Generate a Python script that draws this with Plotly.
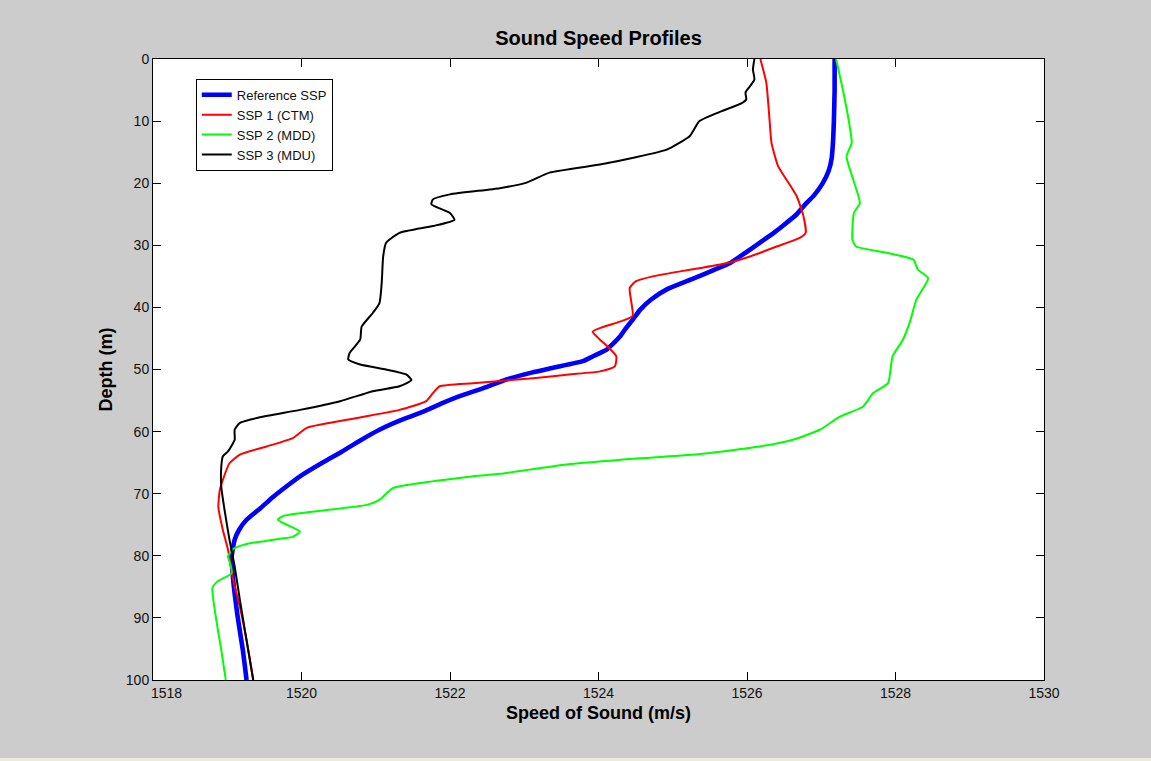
import plotly.graph_objects as go

# Sound speed profiles: speed (m/s) versus depth (m)
ref_depth = [0, 5, 10, 13, 16, 18, 20, 22, 23.2, 25, 26.4, 28, 29.6, 31.2, 32.8, 34, 35.5,
             37.1, 38.8, 40.4, 42, 43.5, 44.7, 46.8, 47.9, 48.6, 49.7, 50.5, 51.6, 53, 54.3,
             55.5, 56.8, 58.2, 59.7, 61.5, 63.4, 65.3, 67.2, 68.8, 70.5, 72.3, 74.2, 75.8,
             77.4, 80.1, 83.9, 89.8, 95.2, 100]
ref_speed = [1527.18, 1527.18, 1527.17, 1527.16, 1527.14, 1527.1, 1527.02, 1526.9, 1526.8,
             1526.67, 1526.53, 1526.36, 1526.17, 1525.98, 1525.78, 1525.55, 1525.25, 1524.92,
             1524.7, 1524.56, 1524.46, 1524.36, 1524.29, 1524.11, 1523.92, 1523.8, 1523.39,
             1523.1, 1522.76, 1522.45, 1522.13, 1521.88, 1521.64, 1521.33, 1521.05, 1520.78,
             1520.52, 1520.24, 1519.98, 1519.8, 1519.62, 1519.45, 1519.26, 1519.16, 1519.1,
             1519.06, 1519.08, 1519.14, 1519.21, 1519.26]

ssp1_depth = [0, 3.8, 9.2, 13.5, 17.3, 19.4, 22.1, 25.3, 28.0, 28.8, 30.2, 31.8, 32.9, 33.6,
              34.2, 35, 35.8, 36.9, 39, 41.4, 42.3, 43.2, 43.9, 45.2, 46.5, 47.9, 49.5, 50.3,
              50.8, 51.4, 52.2, 52.7, 53.8, 55.1, 56.5, 58.1, 59.4, 61.0, 62.4, 63.7, 65.1,
              67.8, 69.4, 72.1, 75.8, 79.0, 83.9, 88.2, 93.6, 100]
ssp1_speed = [1526.18, 1526.26, 1526.3, 1526.33, 1526.42, 1526.53, 1526.67, 1526.76, 1526.79,
              1526.71, 1526.4, 1526.04, 1525.72, 1525.4, 1525.1, 1524.73, 1524.5, 1524.42,
              1524.44, 1524.46, 1524.29, 1524.05, 1523.92, 1524.02, 1524.14, 1524.24, 1524.22,
              1524.02, 1523.6, 1523.12, 1522.31, 1521.86, 1521.77, 1521.68, 1521.32, 1520.61,
              1520.07, 1519.89, 1519.53, 1519.17, 1519.03, 1518.94, 1518.9, 1518.88, 1518.94,
              1519.01, 1519.08, 1519.17, 1519.26, 1519.35]

ssp2_depth = [0, 4.9, 9.2, 13.5, 15.7, 19.4, 23.2, 24.8, 29.1, 30.2, 31.2, 32.3, 33.9, 35.3,
              38.8, 42.5, 45.2, 47.9, 52.2, 53.8, 56, 57.6, 59.7, 61.3, 62.4, 63.6, 64.3, 65.3,
              66.8, 67.2, 69.1, 71.0, 71.8, 73.6, 74.2, 75.0, 76.1, 76.9, 77.4, 78.1, 78.9,
              80.1, 80.9, 82.8, 84.2, 85.2, 90.9, 95.2, 100]
ssp2_speed = [1527.2, 1527.29, 1527.36, 1527.41, 1527.34, 1527.43, 1527.52, 1527.44, 1527.42,
              1527.47, 1527.88, 1528.24, 1528.3, 1528.44, 1528.28, 1528.19, 1528.1, 1527.96,
              1527.9, 1527.7, 1527.56, 1527.25, 1526.98, 1526.62, 1526.17, 1525.37, 1524.56,
              1523.57, 1522.67, 1522.31, 1521.23, 1521.05, 1520.88, 1519.75, 1519.68, 1519.8,
              1519.98, 1519.89, 1519.62, 1519.26, 1519.08, 1519.01, 1519.03, 1519.06, 1518.86,
              1518.8, 1518.86, 1518.92, 1518.98]

ssp3_depth = [0, 1.7, 3.3, 4.4, 5.4, 6.5, 7.1, 8.4, 10, 12.4, 14.6, 15.9, 17, 18.3, 19.9, 20.8,
              21.8, 22.6, 23.4, 24.8, 25.9, 26.9, 28.0, 29.6, 31.8, 36.1, 39.3, 40.9, 43.1,
              45.2, 47.3, 48.4, 49.2, 50.0, 50.8, 51.7, 52.7, 53.5, 55.1, 56.5, 57.7, 58.6,
              59.7, 61.3, 63.2, 64, 65.6, 68.9, 73.1, 77.4, 81.7, 87.1, 93.6, 100]
ssp3_speed = [1526.1, 1526.08, 1526.1, 1526.04, 1525.98, 1525.99, 1525.93, 1525.66, 1525.36,
              1525.23, 1524.92, 1524.47, 1524.02, 1523.34, 1523.03, 1522.67, 1522.0, 1521.77,
              1521.75, 1522.0, 1522.06, 1521.77, 1521.32, 1521.14, 1521.1, 1521.08, 1521.05,
              1520.96, 1520.81, 1520.79, 1520.65, 1520.63, 1520.79, 1521.14, 1521.41, 1521.48,
              1521.32, 1520.96, 1520.52, 1519.98, 1519.44, 1519.17, 1519.1, 1519.1, 1519.01,
              1518.94, 1518.92, 1518.92, 1518.97, 1519.03, 1519.1, 1519.17, 1519.26, 1519.35]

x_ticks = [1518, 1520, 1522, 1524, 1526, 1528, 1530]
y_ticks = [0, 10, 20, 30, 40, 50, 60, 70, 80, 90, 100]

series = [
    ("Reference SSP", ref_speed, ref_depth, "#0000ff", 4.6),
    ("SSP 1 (CTM)", ssp1_speed, ssp1_depth, "#ff0000", 2),
    ("SSP 2 (MDD)", ssp2_speed, ssp2_depth, "#00ff00", 2),
    ("SSP 3 (MDU)", ssp3_speed, ssp3_depth, "#000000", 2),
]

FONT = "Liberation Sans, Arial, Helvetica, sans-serif"

fig = go.Figure()
for name, xs, ys, color, width in series:
    fig.add_trace(go.Scatter(x=xs, y=ys, mode="lines", name=name,
                             line=dict(color=color, width=width, shape="spline",
                                       smoothing=0.5)))

# first x tick label sits a little to the right of its tick
x_ticktext = ["" if v == x_ticks[0] else str(v) for v in x_ticks]
fig.add_annotation(x=x_ticks[0], y=0, xref="x", yref="paper", text=str(x_ticks[0]),
                   showarrow=False, xanchor="center", yanchor="top", xshift=13, yshift=-3,
                   font=dict(family=FONT, size=14, color="#111111"))

fig.update_layout(
    width=1151, height=761,
    margin=dict(l=153, r=107, t=59, b=81),
    paper_bgcolor="#cccccc",
    plot_bgcolor="#ffffff",
    font=dict(family=FONT, size=14, color="#111111"),
    title=dict(text="<b>Sound Speed Profiles</b>", x=0.5, xref="paper", xanchor="center",
               y=1 - 38 / 761, yref="container", yanchor="middle",
               font=dict(family=FONT, size=20, color="#000000")),
    legend=dict(x=0.048, y=0.968, xanchor="left", yanchor="top",
                bgcolor="#ffffff", bordercolor="#000000", borderwidth=1,
                font=dict(family=FONT, size=13, color="#111111"),
                itemwidth=30, tracegroupgap=0,
                entrywidth=106, entrywidthmode="pixels"),
    showlegend=True,
)

fig.update_xaxes(
    range=[1518, 1530], tickvals=x_ticks, ticktext=x_ticktext,
    ticks="inside", ticklen=8, tickcolor="#000000", showline=True, linecolor="#000000",
    linewidth=1, mirror="ticks", showgrid=False, zeroline=False,
    title=dict(text="<b>Speed of Sound (m/s)</b>", standoff=6,
               font=dict(family=FONT, size=18, color="#000000")),
)
fig.update_yaxes(
    range=[100, 0], tickvals=y_ticks,
    ticks="inside", ticklen=8, tickcolor="#000000", showline=True, linecolor="#000000",
    linewidth=1, mirror="ticks", showgrid=False, zeroline=False,
    title=dict(text="<b>Depth (m)</b>", standoff=8,
               font=dict(family=FONT, size=18, color="#000000")),
)

# lighter strip along the bottom edge of the window
fig.add_shape(type="rect", xref="paper", yref="paper", x0=-0.2, x1=1.2,
              y0=-(761 - 680 - 3) / 621 - 0.0001, y1=-(761 - 680 - 3) / 621 - 0.02,
              line=dict(width=0), fillcolor="#ece9e2", layer="below")

fig.write_html("out.html")
